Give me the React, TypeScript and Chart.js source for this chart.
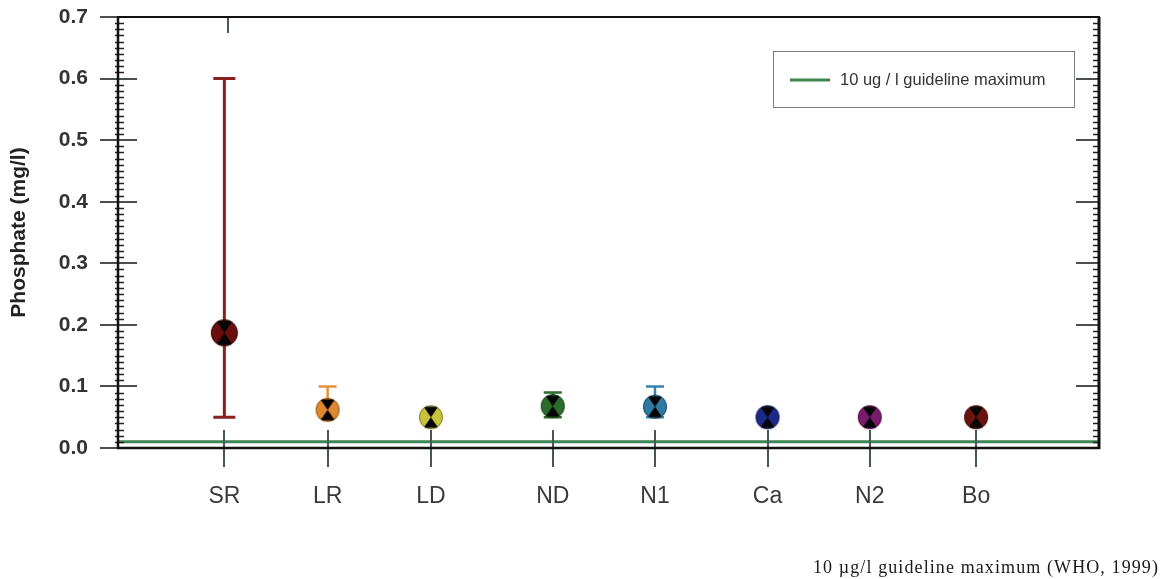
import React, { useEffect, useRef } from "react";
import { Chart, registerables } from "chart.js";

Chart.register(...registerables);

// ---- Data ----
const sites = ["SR", "LR", "LD", "ND", "N1", "Ca", "N2", "Bo"];
const sitePositions = [1.03, 2.03, 3.03, 4.21, 5.2, 6.29, 7.28, 8.31];
const meanPhosphate = [0.187, 0.062, 0.05, 0.068, 0.067, 0.05, 0.05, 0.05];
const errorLow = [0.05, 0.05, 0.05, 0.05, 0.05, 0.05, 0.05, 0.05];
const errorHigh = [0.6, 0.1, 0.05, 0.09, 0.1, 0.05, 0.05, 0.05];
const guidelineValue = 0.01;
const guidelineLabel = "10 ug / l guideline maximum";
const yTickValues = [0, 0.1, 0.2, 0.3, 0.4, 0.5, 0.6, 0.7];
const xRange = [0, 9.5];
const footnote = "10 \u00b5g/l guideline maximum (WHO, 1999)";

// ---- Styles ----
const markerColors = ["#6a0e0e", "#e0882f", "#c6c43c", "#2c6d2c", "#2f7aa3", "#1c2a8c", "#7a1c6c", "#6a140f"];
const errorColors = ["#8a1f1f", "#e8913a", "#c6c43c", "#2c6d2c", "#3384b0", "#1c2a8c", "#7a1c6c", "#6a140f"];
const markerRadii = [13.5, 12, 12, 12, 12, 12, 12, 12];
const guidelineColor = "#3d8552";
const sansFont = "Arial, 'Liberation Sans', sans-serif";

function makeMarker(color: string, r: number): HTMLCanvasElement {
  const size = Math.ceil(2 * r + 2);
  const c = document.createElement("canvas");
  c.width = size;
  c.height = size;
  const ctx = c.getContext("2d")!;
  const cx = size / 2;
  const cy = size / 2;
  ctx.beginPath();
  ctx.arc(cx, cy, r, 0, Math.PI * 2);
  ctx.fillStyle = color;
  ctx.fill();
  ctx.save();
  ctx.clip();
  ctx.fillStyle = "#050505";
  const hw = r * 0.6;
  const top = r * 0.88;
  ctx.beginPath();
  ctx.moveTo(cx - hw, cy - top);
  ctx.lineTo(cx + hw, cy - top);
  ctx.lineTo(cx, cy);
  ctx.closePath();
  ctx.fill();
  ctx.beginPath();
  ctx.moveTo(cx - hw, cy + top);
  ctx.lineTo(cx + hw, cy + top);
  ctx.lineTo(cx, cy);
  ctx.closePath();
  ctx.fill();
  ctx.restore();
  ctx.beginPath();
  ctx.arc(cx, cy, r - 0.5, 0, Math.PI * 2);
  ctx.strokeStyle = "rgba(0,0,0,0.35)";
  ctx.lineWidth = 1;
  ctx.stroke();
  return c;
}

const errorBarPlugin = {
  id: "errorBars",
  beforeDatasetsDraw(chart: any) {
    const ctx = chart.ctx;
    const xs = chart.scales.x;
    const ys = chart.scales.y;
    ctx.save();
    sites.forEach((_, i) => {
      const lo = errorLow[i];
      const hi = errorHigh[i];
      if (hi - lo < 1e-9) return;
      const x = xs.getPixelForValue(sitePositions[i]);
      const yl = ys.getPixelForValue(lo);
      const yh = ys.getPixelForValue(hi);
      ctx.strokeStyle = errorColors[i];
      ctx.lineWidth = i === 0 ? 3 : 2.5;
      ctx.beginPath();
      ctx.moveTo(x, yl);
      ctx.lineTo(x, yh);
      ctx.stroke();
      const cap = i === 0 ? 11 : 9;
      ctx.beginPath();
      ctx.moveTo(x - cap, yh);
      ctx.lineTo(x + cap, yh);
      ctx.moveTo(x - cap, yl);
      ctx.lineTo(x + cap, yl);
      ctx.stroke();
    });
    ctx.restore();
  },
};

const framePlugin = {
  id: "frame",
  afterDraw(chart: any) {
    const ctx = chart.ctx;
    const { left, right, top, bottom } = chart.chartArea;
    const xs = chart.scales.x;
    const ys = chart.scales.y;
    ctx.save();
    ctx.lineCap = "butt";
    // minor ticks every 0.01
    ctx.strokeStyle = "#222";
    ctx.lineWidth = 1.5;
    for (let k = 1; k < 70; k++) {
      if (k % 10 === 0) continue;
      const y = Math.round(ys.getPixelForValue(k / 100)) + 0.5;
      ctx.beginPath();
      ctx.moveTo(left - 3, y);
      ctx.lineTo(left + 6, y);
      ctx.moveTo(right - 6, y);
      ctx.lineTo(right, y);
      ctx.stroke();
    }
    // major ticks
    ctx.strokeStyle = "#4a4f4d";
    ctx.lineWidth = 2;
    yTickValues.forEach((v) => {
      const y = Math.round(ys.getPixelForValue(v));
      ctx.beginPath();
      ctx.moveTo(left - 18, y);
      ctx.lineTo(left + 19, y);
      ctx.moveTo(right - 23, y);
      ctx.lineTo(right, y);
      ctx.stroke();
    });
    // x ticks
    ctx.strokeStyle = "#4b5552";
    ctx.lineWidth = 2;
    sitePositions.forEach((p) => {
      const x = Math.round(xs.getPixelForValue(p));
      ctx.beginPath();
      ctx.moveTo(x, bottom - 18);
      ctx.lineTo(x, bottom + 19);
      ctx.stroke();
    });
    const xt = Math.round(xs.getPixelForValue(sitePositions[0])) + 4;
    ctx.beginPath();
    ctx.moveTo(xt, top);
    ctx.lineTo(xt, top + 16);
    ctx.stroke();
    // frame
    ctx.strokeStyle = "#111";
    ctx.lineWidth = 2.5;
    ctx.beginPath();
    ctx.moveTo(left, top);
    ctx.lineTo(left, bottom);
    ctx.moveTo(left - 1, bottom);
    ctx.lineTo(right + 1, bottom);
    ctx.stroke();
    ctx.lineWidth = 2;
    ctx.beginPath();
    ctx.moveTo(left - 1, top);
    ctx.lineTo(right + 1, top);
    ctx.stroke();
    ctx.lineWidth = 3;
    ctx.beginPath();
    ctx.moveTo(right, top);
    ctx.lineTo(right, bottom + 1);
    ctx.stroke();

    // legend
    const bx = right - 326;
    const by = top + 34;
    const bw = 301;
    const bh = 56;
    ctx.fillStyle = "#fff";
    ctx.fillRect(bx, by, bw, bh);
    ctx.strokeStyle = "#7a7f7d";
    ctx.lineWidth = 1;
    ctx.strokeRect(bx + 0.5, by + 0.5, bw, bh);
    ctx.strokeStyle = guidelineColor;
    ctx.lineWidth = 3;
    ctx.beginPath();
    ctx.moveTo(bx + 17, by + 29);
    ctx.lineTo(bx + 57, by + 29);
    ctx.stroke();
    ctx.fillStyle = "#333";
    ctx.font = "16.5px " + sansFont;
    ctx.textBaseline = "middle";
    ctx.textAlign = "left";
    ctx.fillText(guidelineLabel, bx + 67, by + 29);
    ctx.restore();
  },
};

export default function App() {
  const canvasRef = useRef<HTMLCanvasElement | null>(null);

  useEffect(() => {
    document.body.style.margin = "0";
    const canvas = canvasRef.current!;
    const markers = sites.map((_, i) => makeMarker(markerColors[i], markerRadii[i]));
    const chart = new Chart(canvas, {
      type: "scatter",
      data: {
        datasets: [
          {
            type: "line",
            label: guidelineLabel,
            data: [
              { x: xRange[0], y: guidelineValue },
              { x: xRange[1], y: guidelineValue },
            ],
            borderColor: guidelineColor,
            borderWidth: 3,
            pointRadius: 0,
            fill: false,
          } as any,
          {
            label: "Phosphate",
            data: sites.map((_, i) => ({ x: sitePositions[i], y: meanPhosphate[i] })),
            pointStyle: markers as any,
            pointRadius: 13,
            backgroundColor: markerColors,
          },
        ],
      },
      options: {
        responsive: false,
        animation: false,
        devicePixelRatio: 1,
        layout: { padding: { left: 0, top: 17, right: 64, bottom: 0 } },
        plugins: {
          legend: { display: false },
          tooltip: { enabled: false },
        },
        scales: {
          x: {
            type: "linear",
            min: xRange[0],
            max: xRange[1],
            grid: { display: false, drawTicks: false },
            border: { display: false },
            afterBuildTicks: (scale: any) => {
              scale.ticks = sitePositions.map((v) => ({ value: v }));
            },
            afterFit: (scale: any) => {
              scale.height = 131;
              scale.paddingLeft = 0;
              scale.paddingRight = 0;
            },
            ticks: {
              autoSkip: false,
              maxRotation: 0,
              padding: 35,
              color: "#3a3a3a",
              font: { family: sansFont, size: 23 },
              callback: (_v: any, i: number) => sites[i],
            },
          },
          y: {
            min: 0,
            max: 0.7,
            grid: { display: false, drawTicks: false },
            border: { display: false },
            afterBuildTicks: (scale: any) => {
              scale.ticks = yTickValues.map((v) => ({ value: v }));
            },
            afterFit: (scale: any) => {
              scale.width = 118;
              scale.paddingTop = 0;
              scale.paddingBottom = 0;
            },
            ticks: {
              padding: 30,
              color: "#333",
              font: { family: sansFont, size: 21, weight: "bold" },
              callback: (v: any) => Number(v).toFixed(1),
            },
            title: {
              display: true,
              text: "Phosphate (mg/l)",
              color: "#222",
              padding: { top: 7, bottom: 0 },
              font: { family: sansFont, size: 21, weight: "bold" },
            },
          },
        },
      },
      plugins: [errorBarPlugin, framePlugin],
    });
    return () => chart.destroy();
  }, []);

  return (
    <div style={{ position: "relative", width: 1163, height: 579, background: "#fff" }}>
      <canvas ref={canvasRef} width={1163} height={579} style={{ display: "block" }} />
      <div
        style={{
          position: "absolute",
          left: 813,
          top: 556,
          fontFamily: "'Liberation Serif', 'Times New Roman', serif",
          fontSize: 18,
          letterSpacing: "1.1px",
          color: "#1a1a1a",
          whiteSpace: "nowrap",
          lineHeight: "22px",
        }}
      >
        {footnote}
      </div>
    </div>
  );
}
